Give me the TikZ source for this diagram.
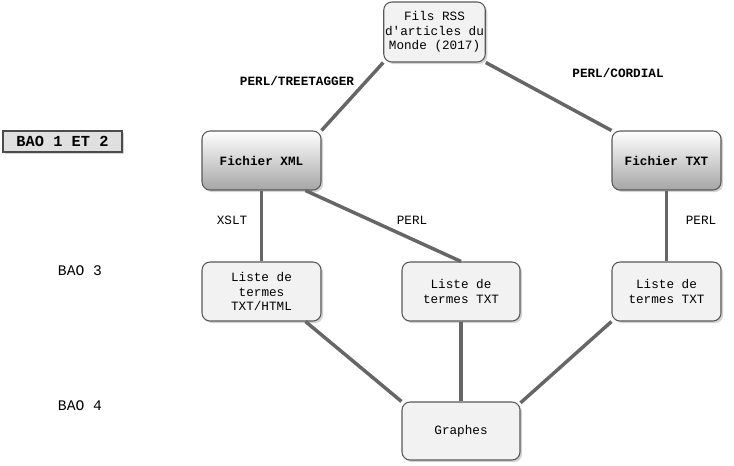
\documentclass[tikz,border=0pt]{standalone}
\usepackage{fontspec}
\setmonofont{Liberation Mono}
\usetikzlibrary{shadows}
\begin{document}
\begin{tikzpicture}[x=0.75pt,y=-0.75pt,
  font=\ttfamily\fontsize{9.5}{11}\selectfont,
  box/.style={draw=black!65,line width=0.8pt,rounded corners=6pt,fill=black!5,align=center,
    drop shadow={shadow xshift=1.5pt,shadow yshift=-1.5pt,opacity=0.35}},
  gbox/.style={box,top color=white,bottom color=black!35,font=\ttfamily\bfseries\fontsize{9.5}{11}\selectfont},
  conn/.style={draw=black!60,line width=1.3pt,double=black!15,double distance=0pt},
  lab/.style={font=\ttfamily\fontsize{9.5}{11}\selectfont},
  blab/.style={font=\ttfamily\bfseries\fontsize{9.5}{11}\selectfont}]
\useasboundingbox (0,0) rectangle (734,465);
\node[box,minimum width=65*0.75pt,minimum height=60*0.75pt,inner sep=1pt] (rss) at (434.5,32) {Fils RSS\\d'articles du\\Monde (2017)};
\node[gbox,minimum width=119*0.75pt,minimum height=59*0.75pt] (xml) at (261.5,160.5) {Fichier XML};
\node[gbox,minimum width=109*0.75pt,minimum height=59*0.75pt] (txt) at (666.5,160.5) {Fichier TXT};
\node[box,minimum width=119*0.75pt,minimum height=59*0.75pt,inner sep=1pt] (lh) at (261.5,291.5) {Liste de\\termes\\TXT/HTML};
\node[box,minimum width=118*0.75pt,minimum height=59*0.75pt,inner sep=1pt] (lm) at (461,291.5) {Liste de\\termes TXT};
\node[box,minimum width=109*0.75pt,minimum height=59*0.75pt,inner sep=1pt] (lr) at (666.5,291.5) {Liste de\\termes TXT};
\node[box,minimum width=118*0.75pt,minimum height=58*0.75pt] (gr) at (461,431) {Graphes};
\node[draw=black!70,line width=1.2pt,fill=black!12,minimum width=119*0.75pt,minimum height=21*0.75pt,inner sep=1pt,
  font=\ttfamily\bfseries\fontsize{11.5}{13}\selectfont,
  drop shadow={shadow xshift=1.5pt,shadow yshift=-1.5pt,opacity=0.35}] (b12) at (62.5,141.5) {BAO 1 ET 2};
\node[font=\ttfamily\fontsize{11}{13}\selectfont] (b3) at (80,271) {BAO 3};
\node[font=\ttfamily\fontsize{11}{13}\selectfont] (b4) at (80,406) {BAO 4};
\node[blab] (l1) at (297,81) {PERL/TREETAGGER};
\node[blab] (l2) at (618,73) {PERL/CORDIAL};
\node[lab] (l3) at (232,220) {XSLT};
\node[lab] (l4) at (412,220) {PERL};
\node[lab] (l5) at (701,220) {PERL};
\draw[conn] (rss.south west) -- (xml.north east);
\draw[conn] (rss.south east) -- (txt.north west);
\draw[conn] (xml) -- (lh);
\draw[conn] (xml.south east) ++(-12pt,0) -- (lm.north);
\draw[conn] (txt) -- (lr);
\draw[conn] (lh.south east) ++(-12pt,0) -- (gr.north west);
\draw[conn] (lm) -- (gr);
\draw[conn] (lr.south west) -- ([yshift=-1pt]gr.north east);
\end{tikzpicture}
\end{document}
